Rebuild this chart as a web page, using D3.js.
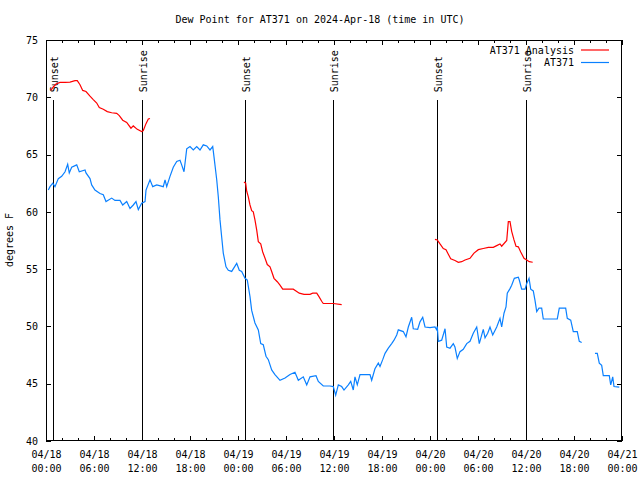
<!DOCTYPE html>
<html><head><meta charset="utf-8">
<script src="https://cdn.jsdelivr.net/npm/d3@7"></script>
<style>
body{margin:0;background:#fff;}
text{font-family:"DejaVu Sans Mono",monospace;font-size:10px;fill:#000;}
</style></head>
<body><svg id="c" width="640" height="480"></svg>
<script>
// hours since 2024-04-18 00:00 UTC
const obsHours = [0.29,0.5,0.84,1.12,1.54,1.96,2.38,2.71,2.91,3.21,3.84,4.16,4.88,5.0,5.5,5.71,6.12,6.75,7.16,7.5,8.21,8.62,9.25,9.59,10.09,10.5,10.91,11.25,11.54,11.96,12.38,12.5,13.0,13.34,13.84,14.66,14.88,15.09,15.5,15.91,16.34,16.75,16.96,17.25,17.59,18.0,18.41,18.84,19.25,19.66,20.09,20.5,20.84,21.0,21.34,21.54,21.75,21.96,22.16,22.5,22.79,23.21,23.84,24.16,24.46,24.88,25.16,25.5,25.71,26.12,26.54,26.84,27.16,27.5,27.79,28.21,28.62,29.25,29.88,30.5,31.12,31.54,32.16,32.59,33.0,33.75,34.04,34.66,35.5,35.91,36.21,36.54,36.96,37.25,37.79,38.09,38.41,38.62,38.91,39.25,40.5,40.71,41.12,41.54,41.75,42.09,42.38,42.79,43.21,43.5,43.84,44.04,44.66,45.0,45.29,45.71,45.91,46.46,46.75,47.09,47.38,48.0,48.62,48.84,48.91,49.04,49.46,49.88,50.09,50.5,50.91,51.12,51.41,51.75,52.16,52.59,53.0,53.41,53.84,54.16,54.66,54.88,55.21,55.5,55.84,56.34,56.75,56.96,57.25,57.5,57.66,58.0,58.21,58.54,59.04,59.16,59.46,59.88,60.09,60.38,60.59,60.91,61.12,61.34,61.62,61.96,62.16,63.91,64.16,64.96,65.16,65.59,65.91,66.41,66.66,66.96,67.8,68.62,68.91,69.16,69.46,69.66,70.41,70.59,70.84,71.0,71.66];
const obsValues = [61.9,62.2,62.5,62.2,62.9,63.1,63.5,64.15,63.4,63.9,64.1,63.5,63.65,63.4,62.9,62.35,61.9,61.6,61.5,60.9,61.2,61.0,61.0,60.6,60.9,60.3,60.6,60.9,60.2,60.75,60.9,61.9,62.8,62.2,62.35,62.2,62.8,62.2,63.1,63.9,64.4,64.5,64.1,63.5,65.5,65.7,65.4,65.7,65.4,65.85,65.75,65.4,65.7,64.8,62.8,61.3,59.3,57.8,56.4,55.2,54.9,54.8,55.5,54.9,54.8,54.2,54.05,52.6,51.4,50.3,49.7,48.5,48.4,47.4,47.1,46.2,45.8,45.3,45.5,45.8,46.0,45.3,45.6,44.9,45.6,45.7,45.2,44.8,44.8,44.75,44.0,44.9,44.75,44.45,44.9,45.2,44.45,45.6,44.9,45.8,45.8,45.3,46.3,46.8,46.5,47.1,47.65,48.1,48.5,48.8,49.25,49.7,49.55,49.1,49.95,50.8,49.8,49.75,50.4,50.8,49.95,49.9,49.95,49.7,50.0,48.7,48.8,49.8,48.2,48.1,48.5,48.2,47.2,47.8,48.0,48.5,48.7,49.4,49.95,48.5,49.75,49.0,49.4,49.95,49.25,49.95,50.7,49.95,51.15,51.7,52.9,53.3,53.6,54.2,54.3,54.05,53.25,53.25,53.75,54.2,53.25,53.1,52.3,51.3,51.6,51.6,50.65,50.65,51.6,51.6,50.7,50.55,49.55,49.55,48.7,48.6,null,47.65,47.65,46.8,46.6,45.7,45.7,44.9,45.6,44.75,44.7];

const anaHours = [0.59,0.91,1.25,1.75,2.38,3.0,3.62,3.91,4.25,4.59,5.0,5.5,5.91,6.34,6.66,7.16,7.66,8.21,8.84,9.16,9.59,10.09,10.62,10.91,11.41,11.96,12.16,12.5,12.79,13.0,18.0,24.75,24.96,25.09,25.29,25.5,25.71,25.91,26.12,26.34,26.54,26.84,27.09,27.38,27.66,28.0,28.21,28.5,28.91,29.25,29.59,30.91,31.25,31.66,32.25,33.0,33.34,33.84,34.12,34.46,34.66,35.91,36.96,42.0,48.62,48.91,49.25,49.66,50.0,50.29,50.59,51.12,51.54,51.96,52.38,53.0,53.5,54.04,54.66,55.29,55.91,56.34,56.75,56.96,57.59,57.79,58.0,58.21,58.5,58.75,59.04,59.34,59.75,60.09,60.41,60.84];
const anaValues = [70.6,70.9,71.16,71.3,71.3,71.33,71.45,71.45,71.1,70.6,70.5,70.1,69.8,69.5,69.1,68.95,68.75,68.65,68.6,68.4,68.0,67.8,67.3,67.5,67.2,67.0,67.1,67.7,68.1,68.15,null,62.6,62.5,61.8,61.3,60.6,60.1,60.0,59.3,58.4,57.4,57.2,56.5,55.95,55.4,55.2,54.8,54.2,53.9,53.6,53.25,53.25,53.1,52.9,52.8,52.8,52.9,52.9,52.6,52.2,52.0,52.0,51.9,null,57.6,57.55,57.2,56.8,56.7,56.3,55.9,55.75,55.6,55.65,55.8,55.95,56.4,56.7,56.8,56.9,56.9,57.05,57.2,57.0,57.5,59.15,59.15,58.3,57.55,57.0,56.95,56.5,55.95,55.8,55.65,55.6];

const sunEventHours = [0.84,11.96,24.91,35.92,48.91,60.0];
const sunEventLabels = ["Sunset","Sunrise","Sunset","Sunrise","Sunset","Sunrise"];
const yTicks = [40,45,50,55,60,65,70,75];
const seriesNames = ["AT371 Analysis","AT371"];
const seriesColors = ["#ff0000","#0a80ff"];
const titleText = "Dew Point for AT371 on 2024-Apr-18 (time in UTC)";
const yLabel = "degrees F";

const t0 = Date.UTC(2024,3,18);
const toDate = h => new Date(t0 + h*3600e3);

const svg = d3.select("#c");
const L=46,R=622,T=40,B=441;
const x = d3.scaleUtc().domain([toDate(0), toDate(72)]).range([L,R]);
const y = d3.scaleLinear().domain([40,75]).range([B,T]);

// title & y label
svg.append("text").attr("x",320).attr("y",23).attr("text-anchor","middle").text(titleText);
svg.append("text").attr("transform","translate(13,240) rotate(-90)").attr("text-anchor","middle").text(yLabel);

// axes
const fmt = d3.utcFormat("%m/%d");
const fmt2 = d3.utcFormat("%H:%M");
const major = d3.utcHour.every(6).range(toDate(0), toDate(72.01));
const minor = d3.utcHour.every(2).range(toDate(0), toDate(72.01));

svg.append("g").attr("transform",`translate(0,${B})`)
  .call(d3.axisBottom(x).tickValues(minor).tickSize(-3).tickFormat(""));
const bx2 = svg.append("g").attr("transform",`translate(0,${B})`)
  .call(d3.axisBottom(x).tickValues(major).tickSize(-5).tickFormat(""));
bx2.selectAll(".tick").append("text").attr("y",17).attr("text-anchor","middle").text(d=>fmt(d));
bx2.selectAll(".tick").append("text").attr("y",31).attr("text-anchor","middle").text(d=>fmt2(d));
svg.append("g").attr("transform",`translate(0,${T})`)
  .call(d3.axisTop(x).tickValues(minor).tickSize(-3).tickFormat(""));
svg.append("g").attr("transform",`translate(0,${T})`)
  .call(d3.axisTop(x).tickValues(major).tickSize(-5).tickFormat(""));
svg.append("g").attr("transform",`translate(${L},0)`)
  .call(d3.axisLeft(y).tickValues(yTicks).tickSize(-5).tickPadding(8).tickFormat(d3.format("d")));
svg.append("g").attr("transform",`translate(${R},0)`)
  .call(d3.axisRight(y).tickValues(yTicks).tickSize(-5).tickFormat(""));
svg.selectAll(".domain").remove();
svg.selectAll(".tick line").attr("stroke","#000").attr("shape-rendering","crispEdges");
svg.selectAll(".tick text").style("font-family","DejaVu Sans Mono").style("font-size","10px").attr("fill","#000");

// frame
svg.append("rect").attr("x",L+0.5).attr("y",T+0.5).attr("width",R-L-1).attr("height",B-T-1)
  .attr("fill","none").attr("stroke","#000").attr("shape-rendering","crispEdges");

// sun events
const ev = svg.append("g");
sunEventHours.forEach((h,i)=>{
  const xx = Math.round(x(toDate(h)))+0.5;
  ev.append("line").attr("x1",xx).attr("x2",xx).attr("y1",y(69.8)).attr("y2",B)
    .attr("stroke","#000").attr("shape-rendering","crispEdges");
  ev.append("text").attr("transform",`translate(${xx+4},${y(70)-5}) rotate(-90)`)
    .attr("text-anchor","start").text(sunEventLabels[i]);
});

// series
const line = d3.line().defined(d=>d[1]!=null).x(d=>x(toDate(d[0]))).y(d=>y(d[1]));
const ana = anaHours.map((h,i)=>[h,anaValues[i]]);
const obs = obsHours.map((h,i)=>[h,obsValues[i]]);
svg.append("path").datum(ana).attr("d",line).attr("fill","none").attr("stroke",seriesColors[0]).attr("stroke-width",1.2);
svg.append("path").datum(obs).attr("d",line).attr("fill","none").attr("stroke",seriesColors[1]).attr("stroke-width",1.2);

// legend
seriesNames.forEach((n,i)=>{
  const yy = 50 + i*12.5;
  svg.append("text").attr("x",574).attr("y",yy+3.5).attr("text-anchor","end").text(n);
  svg.append("line").attr("x1",581).attr("x2",609).attr("y1",yy).attr("y2",yy)
    .attr("stroke",seriesColors[i]).attr("stroke-width",1.2);
});
</script></body></html>
